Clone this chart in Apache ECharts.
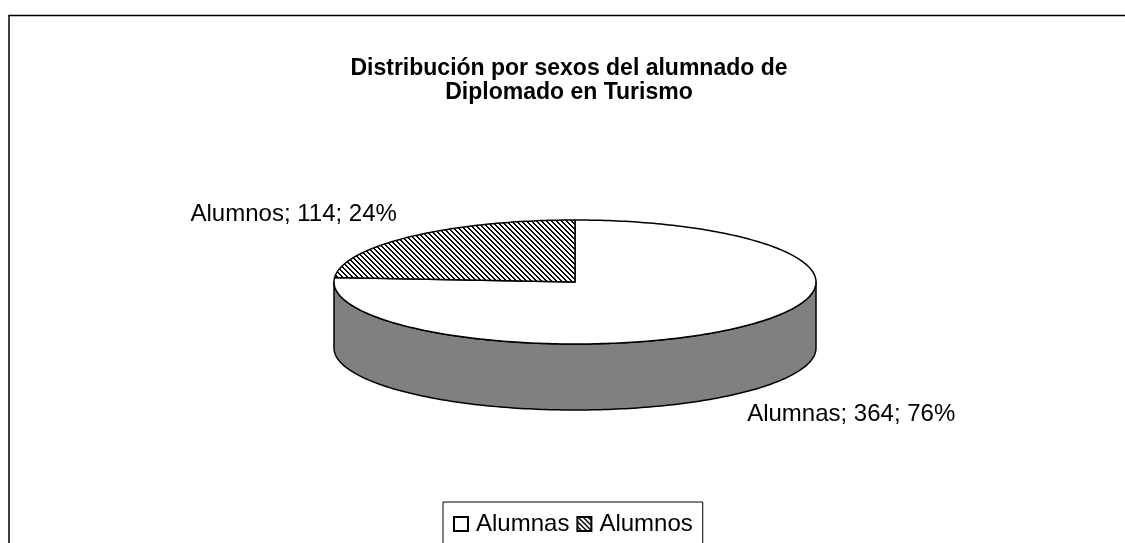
<!DOCTYPE html>
<html>
<head>
<meta charset="utf-8">
<title>Distribución por sexos</title>
<script src="https://cdn.jsdelivr.net/npm/echarts@6/dist/echarts.min.js"></script>
<style>
  html, body { margin: 0; padding: 0; background: #fff; }
  #main { width: 1125px; height: 543px; }
</style>
</head>
<body>
<div id="main"></div>
<script>
// datos
const categories = ['Alumnas', 'Alumnos']
const counts = [364, 114]
const titleText = 'Distribución por sexos del alumnado de\nDiplomado en Turismo'

// geometria del "pastel 3D" (elipse + profundidad)
const cx = 575
const cy = 282
const rx = 241
const ry = 62
const depth = 66
const FONT = 'Liberation Sans'

// trama diagonal tipo Excel
function hatchPattern() {
  const c = document.createElement('canvas')
  c.width = 5
  c.height = 5
  const ctx = c.getContext('2d')
  ctx.fillStyle = '#fff'
  ctx.fillRect(0, 0, 5, 5)
  ctx.fillStyle = '#000'
  for (let x = 0; x < 5; x++) {
    for (let y = 0; y < 5; y++) {
      if (((x - y) % 5 + 5) % 5 < 2) ctx.fillRect(x, y, 1, 1)
    }
  }
  return { image: c, repeat: 'repeat' }
}
const fills = ['#ffffff', hatchPattern()]
const sideColor = '#808080'

const total = counts.reduce((a, b) => a + b, 0)

// punto sobre la elipse, angulo desde las 12 en sentido horario
function pt(t, dy) {
  return [cx + rx * Math.sin(t), cy - ry * Math.cos(t) + dy]
}
function arc(t0, t1, dy) {
  const pts = []
  const n = Math.max(2, Math.ceil((t1 - t0) / (Math.PI / 180)))
  for (let i = 0; i <= n; i++) {
    pts.push(pt(t0 + (t1 - t0) * i / n, dy))
  }
  return pts
}

function renderSlice(params, api) {
  const start = api.value(0)
  const val = api.value(1)
  const tot = api.value(2)
  const t0 = start / tot * Math.PI * 2
  const t1 = (start + val) / tot * Math.PI * 2
  const idx = params.seriesIndex
  const children = []

  // lateral visible (mitad delantera)
  const a = Math.max(t0, Math.PI / 2)
  const b = Math.min(t1, Math.PI * 1.5)
  if (b > a) {
    const side = arc(a, b, 0).concat(arc(a, b, depth).reverse())
    children.push({
      type: 'polygon',
      z2: 0,
      shape: { points: side },
      style: { fill: sideColor, stroke: '#000', lineWidth: 1.5, lineJoin: 'round' }
    })
  }

  // cara superior
  const topPts = [[cx, cy]].concat(arc(t0, t1, 0))
  children.push({
    type: 'polygon',
    z2: 1,
    shape: { points: topPts },
    style: { fill: fills[idx], stroke: '#000', lineWidth: 1.5, lineJoin: 'round' }
  })

  // etiqueta
  const mid = (t0 + t1) / 2
  const p = pt(mid, 0)
  const left = Math.sin(mid) < 0
  const back = Math.cos(mid) > 0
  const pct = Math.round(val / tot * 100)
  children.push({
    type: 'text',
    z2: 2,
    x: left ? p[0] - 14 : p[0] + 8,
    y: back ? p[1] - 22 : p[1] + depth + 21,
    style: {
      text: categories[idx] + '; ' + val + '; ' + pct + '%',
      fill: '#000',
      font: '24px "' + FONT + '"',
      align: left ? 'right' : 'left',
      verticalAlign: 'middle'
    }
  })

  return { type: 'group', children }
}

let acc = 0
const series = categories.map((name, i) => {
  const item = [acc, counts[i], total]
  acc += counts[i]
  return {
    type: 'custom',
    name: name,
    coordinateSystem: 'none',
    renderItem: renderSlice,
    itemStyle: { color: fills[i], borderColor: '#000', borderWidth: 1 },
    data: [item]
  }
})

const myChart = echarts.init(document.getElementById('main'))
myChart.setOption({
  animation: false,
  backgroundColor: '#fff',
  textStyle: { fontFamily: FONT },
  title: {
    text: titleText,
    left: 569,
    top: 57,
    padding: 0,
    textAlign: 'center',
    textStyle: { fontFamily: FONT, fontSize: 23, fontWeight: 'bold', color: '#000', lineHeight: 24 }
  },
  legend: {
    data: categories,
    left: 443,
    top: 502,
    padding: [10, 10, 14, 10],
    itemGap: 7,
    itemWidth: 14,
    itemHeight: 14,
    icon: 'rect',
    borderColor: '#000',
    borderWidth: 1,
    selectedMode: false,
    textStyle: { fontFamily: FONT, fontSize: 24, color: '#000', padding: [0, 0, 0, 3] }
  },
  graphic: [
    {
      type: 'rect',
      z: -1,
      shape: { x: 9, y: 15.5, width: 1300, height: 700 },
      style: { fill: 'none', stroke: '#000', lineWidth: 1.5 }
    }
  ],
  series: series
})
</script>
</body>
</html>
